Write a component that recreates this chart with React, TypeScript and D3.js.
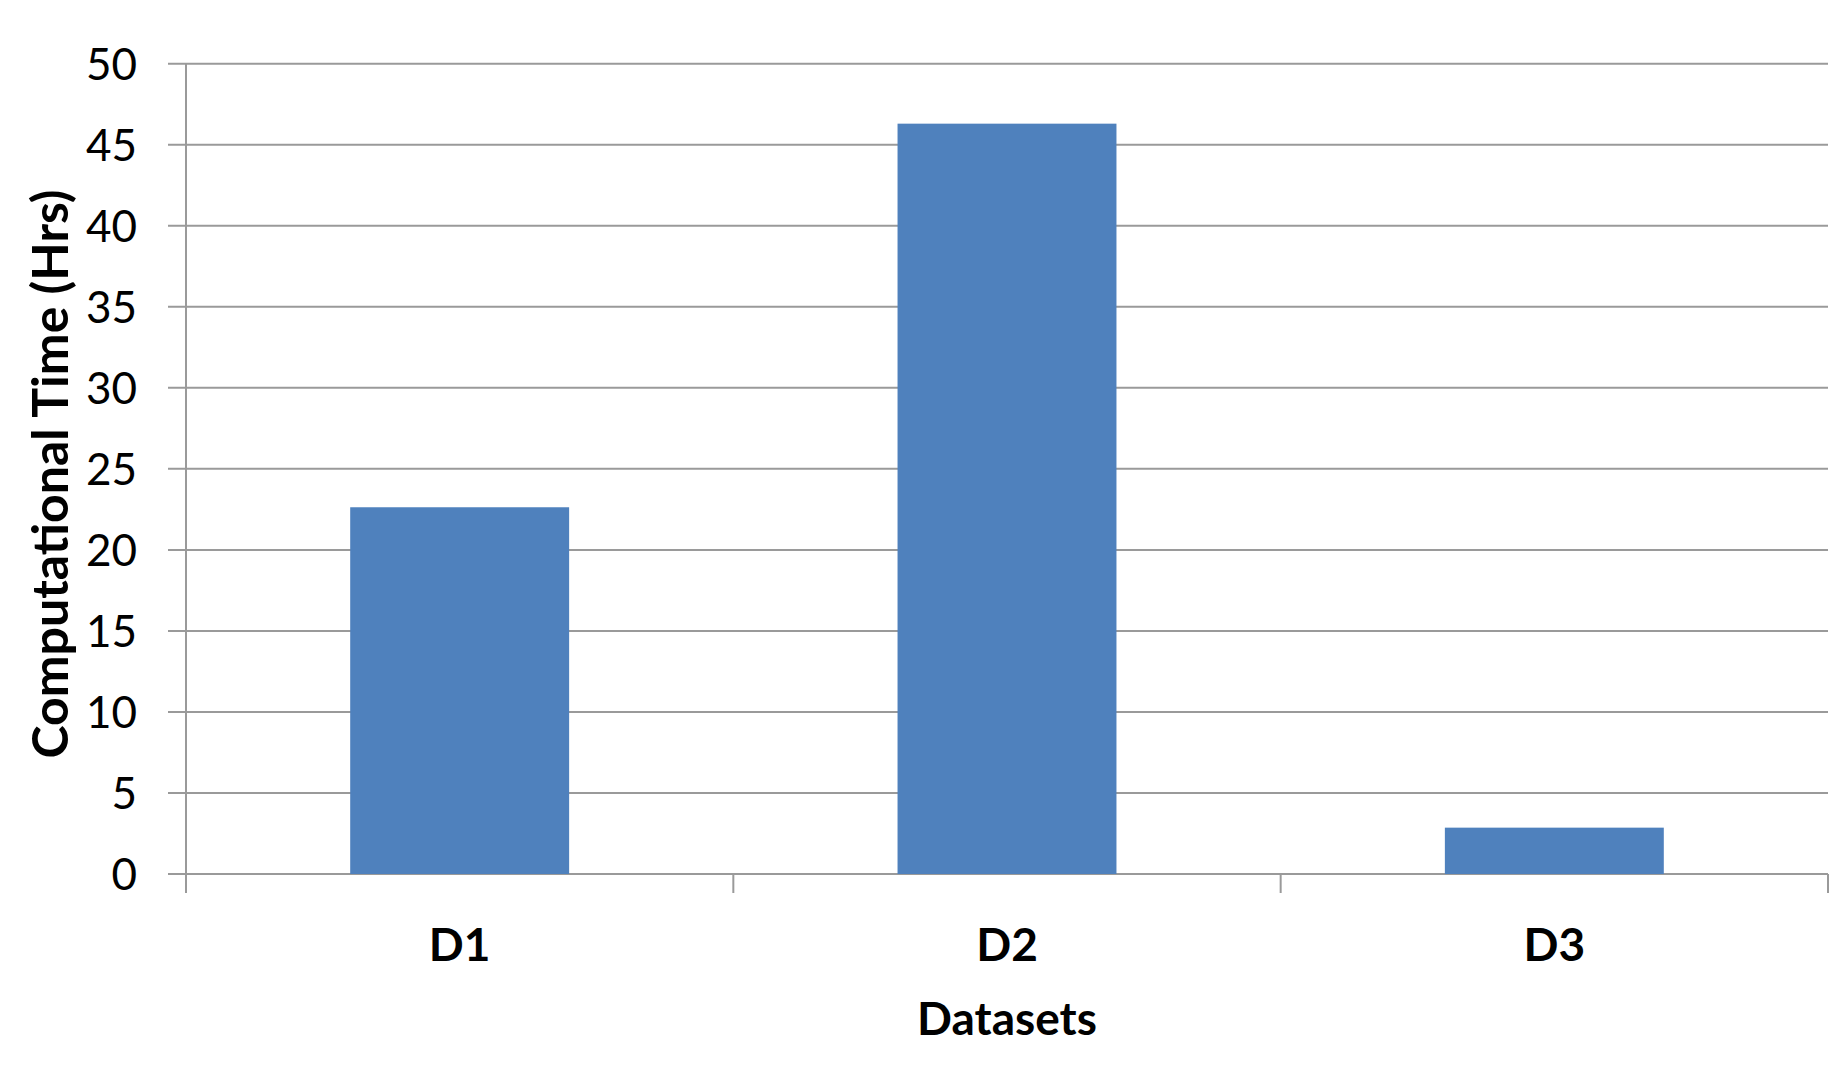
import React from "react";
import * as d3 from "d3";

const categories = ["D1", "D2", "D3"];
const values = [22.63, 46.3, 2.86];
const yTicks = [0, 5, 10, 15, 20, 25, 30, 35, 40, 45, 50];
const yTitle = "Computational Time (Hrs)";
const xTitle = "Datasets";

const W = 1848;
const H = 1065;
const left = 186;
const right = 1828;
const top = 63.7;
const bottom = 874;
const FONT = "Lato, 'Open Sans', sans-serif";

export default function App() {
  const x = d3.scaleBand<string>().domain(categories).range([left, right]).paddingInner(0.6).paddingOuter(0.3);
  const bandX = d3.scaleBand<string>().domain(categories).range([left, right]);
  const y = d3.scaleLinear().domain([0, 50]).range([bottom, top]);
  const grid = "#9a9a9a";
  const boundaries = [...categories.map((c) => bandX(c)!), right];
  return (
    <svg width={W} height={H} style={{ position: "absolute", left: 0, top: 0, background: "#fff" }}>
      {yTicks.map((t) => (
        <g key={t}>
          <line x1={168} x2={right} y1={y(t)} y2={y(t)} stroke={grid} strokeWidth={2} />
          <text x={137} y={y(t)} dy="0.36em" textAnchor="end" fontFamily={FONT} fontSize={44} fill="#000">
            {t}
          </text>
        </g>
      ))}
      <line x1={left} x2={left} y1={top} y2={893} stroke={grid} strokeWidth={2} />
      {boundaries.slice(1).map((bx, i) => (
        <line key={i} x1={bx} x2={bx} y1={bottom} y2={893} stroke={grid} strokeWidth={2} />
      ))}
      {categories.map((c, i) => (
        <rect key={c} x={x(c)} y={y(values[i])} width={x.bandwidth()} height={bottom - y(values[i])} fill="#4f81bd" />
      ))}
      {categories.map((c) => (
        <text key={c} x={bandX(c)! + bandX.bandwidth() / 2} y={961} textAnchor="middle" fontFamily={FONT} fontWeight="bold" fontSize={46} fill="#000">
          {c}
        </text>
      ))}
      <text x={(left + right) / 2} y={1035} textAnchor="middle" fontFamily={FONT} fontWeight="bold" fontSize={46} fill="#000">
        {xTitle}
      </text>
      <text transform={`translate(68,474) rotate(-90)`} textAnchor="middle" fontFamily={FONT} fontWeight="bold" fontSize={50} fill="#000">
        {yTitle}
      </text>
    </svg>
  );
}
